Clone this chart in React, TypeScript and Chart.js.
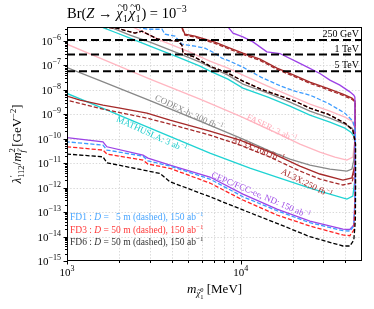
import React, { useEffect, useRef } from 'react';
import { Chart, registerables } from 'chart.js';

Chart.register(...registerables);

// ---------- axis ranges & ticks ----------
const X_MIN = 1000;
const X_MAX = 50000;
const Y_MIN = 1e-15;
const Y_MAX = 3.7e-6;
const X_MAJOR = [1000, 10000];
const X_MAJOR_EXP = ['3', '4'];
const X_MINOR = [2000, 3000, 4000, 5000, 6000, 7000, 8000, 9000, 20000, 30000, 40000];
const Y_MAJOR_EXP = [-15, -14, -13, -12, -11, -10, -9, -8, -7, -6];

// ---------- curves: [mass MeV, lambda'/m^2 GeV^-2] ----------
const CEPC_UPPER = [[8450, 3.73e-6], [9040, 2.07e-6], [10310, 1.46e-6], [11780, 9.1e-7], [14160, 3.56e-7], [16820, 3.05e-7], [21090, 1.39e-7], [24080, 8.67e-8], [28610, 4.66e-8], [32670, 2.48e-8], [37300, 1.55e-8], [42560, 8.26e-9], [44860, 6.05e-9], [45500, 5e-9]];
const CEPC_LOWER = [[1000, 1.11e-10], [1611, 7.48e-11], [1698, 4.68e-11], [2739, 2.14e-11], [2926, 1.61e-11], [3917, 8.38e-12], [6655, 2.71e-12], [10310, 5.47e-13], [16190, 1.33e-13], [25060, 4.31e-14], [38810, 2.03e-14], [42560, 1.94e-14], [44860, 2.96e-14], [45480, 3.11e-13], [45500, 1e-12]];

const FD1_UPPER = [[2529, 3.63e-6], [2926, 3.0e-6], [3526, 3.0e-6], [3666, 1.88e-6], [4186, 1.56e-6], [4594, 7.33e-7], [5454, 6.07e-7], [6230, 5.03e-7], [7113, 3.15e-7], [7801, 1.96e-7], [8676, 1.48e-7], [10310, 8.43e-8], [13090, 3.29e-8], [17060, 1.41e-8], [20540, 8.81e-9], [25060, 6.05e-9], [31820, 2.85e-9], [39850, 1.11e-9], [44280, 5.25e-10], [45800, 2e-10]];
const FD1_LOWER = [[1000, 7.48e-11], [1611, 5.48e-11], [1698, 3.43e-11], [2739, 1.95e-11], [2926, 1.25e-11], [3917, 7.62e-12], [6655, 2.24e-12], [10310, 4.24e-13], [16190, 1.14e-13], [25060, 3.67e-14], [38810, 1.73e-14], [42560, 1.68e-14], [44860, 2.69e-14], [45480, 1.94e-13], [45800, 1e-12]];

const FD3_UPPER = [[1611, 3.63e-6], [1940, 3.3e-6], [2462, 2.07e-6], [2704, 2.49e-6], [3343, 1.17e-6], [4357, 9.72e-7], [4594, 6.67e-7], [4656, 3.15e-7], [5454, 2.16e-7], [6655, 9.25e-8], [8450, 4.8e-8], [10310, 2.26e-8], [13090, 1.06e-8], [16400, 6.05e-9], [20540, 3.44e-9], [25060, 1.78e-9], [31820, 1.01e-9], [39850, 4.35e-10], [44280, 2.25e-10], [45800, 6e-11]];
const FD3_LOWER = [[1000, 4.68e-11], [1611, 3.43e-11], [1698, 2.36e-11], [2739, 1.34e-11], [2926, 9.2e-12], [3917, 6.14e-12], [6655, 1.54e-12], [10310, 3.11e-13], [16190, 7.59e-14], [25060, 2.69e-14], [38810, 1.16e-14], [42560, 1.08e-14], [44860, 1.85e-14], [45480, 1.22e-13], [45800, 1e-12]];

const FD6_UPPER = [[1611, 3.63e-6], [1940, 3.3e-6], [2462, 2.07e-6], [2704, 2.49e-6], [3343, 1.17e-6], [4357, 9.72e-7], [4594, 6.67e-7], [4656, 3.15e-7], [5454, 2.16e-7], [6655, 9.25e-8], [8450, 4.8e-8], [10310, 2.26e-8], [13090, 1.06e-8], [16400, 6.05e-9], [20540, 3.44e-9], [25060, 1.78e-9], [31820, 1.01e-9], [39850, 4.35e-10], [44280, 2.25e-10], [45900, 6e-11]];
const FD6_LOWER = [[1000, 2.36e-11], [1611, 1.82e-11], [1698, 1.04e-11], [2739, 5.24e-12], [3428, 3.83e-12], [3917, 1.74e-12], [6655, 4.24e-13], [10310, 1.22e-13], [16190, 3.48e-14], [25060, 9.84e-15], [38810, 4.11e-15], [42560, 4.11e-15], [44860, 7.23e-15], [45800, 4.74e-14], [45900, 1e-12]];

const AL3X100_UPPER = [[4594, 3.63e-6], [4776, 1.88e-6], [5454, 1.56e-6], [6230, 1.17e-6], [7113, 8.85e-7], [8676, 5.03e-7], [10310, 3.15e-7], [12920, 1.79e-7], [16190, 7.67e-8], [20280, 3.97e-8], [25060, 2.06e-8], [31390, 1.17e-8], [38810, 6.65e-9], [43740, 4.56e-9], [45600, 3.5e-9]];
const AL3X100_LOWER = [[1000, 5.51e-9], [1188, 3.78e-9], [1611, 2.36e-9], [2019, 1.78e-9], [2887, 1.11e-9], [3917, 5.75e-10], [6655, 2.05e-10], [9909, 8.79e-11], [14750, 2.84e-11], [21950, 7.62e-12], [28610, 3.6e-12], [38810, 2.04e-12], [43740, 2.47e-12], [45480, 8.38e-12], [45600, 2e-11]];
const AL3X250_UPPER = [[4594, 3.3e-6], [4776, 1.72e-6], [5454, 1.42e-6], [6230, 1.05e-6], [7113, 7.9e-7], [8676, 4.5e-7], [10310, 2.8e-7], [12920, 1.6e-7], [16190, 6.9e-8], [20280, 3.55e-8], [25060, 1.85e-8], [31390, 1.05e-8], [38810, 5.9e-9], [43740, 4.1e-9], [45700, 3.2e-9]];
const AL3X250_LOWER = [[1000, 3.78e-9], [1611, 1.62e-9], [2887, 6.95e-10], [3917, 3.95e-10], [6655, 1.41e-10], [9909, 5.48e-11], [14750, 1.77e-11], [21950, 4.76e-12], [28610, 2.24e-12], [38810, 1.28e-12], [43740, 1.54e-12], [45480, 5.24e-12], [45700, 1.5e-11]];

const MATHUSLA_UPPER = [[1611, 3.52e-6], [1889, 2.26e-6], [2305, 1.29e-6], [3007, 6.07e-7], [4357, 2.16e-7], [5832, 9.25e-8], [6655, 5.78e-8], [8450, 2.73e-8], [10310, 1.17e-8], [14360, 5.01e-9], [19230, 2.15e-9], [25060, 9.2e-10], [32670, 4.78e-10], [39850, 2.72e-10], [43150, 1.86e-10], [44860, 1.28e-10], [45600, 6e-11]];
const MATHUSLA_LOWER = [[1000, 7.1e-9], [1549, 1.96e-9], [3007, 2.72e-10], [6655, 2.59e-11], [11310, 6.31e-12], [16820, 2.47e-12], [25060, 9.62e-13], [32670, 5.47e-13], [40930, 3.42e-13], [44280, 4.54e-13], [45480, 2.04e-12], [45600, 5e-12]];

const CODEX_UPPER = [[1722, 3.98e-6], [2305, 1.71e-6], [3007, 8.85e-7], [4357, 3.15e-7], [5832, 1.35e-7], [8450, 3.97e-8], [10310, 1.7e-8], [14360, 7.31e-9], [19230, 3.13e-9], [25060, 1.34e-9], [32670, 6.95e-10], [39850, 3.95e-10], [43740, 2.72e-10], [45480, 1.55e-10], [45600, 1e-10]];
const CODEX_LOWER = [[1000, 8.04e-8], [1549, 2.37e-8], [3007, 3.61e-9], [5832, 5.25e-10], [10310, 9.66e-11], [14750, 3.12e-11], [19230, 1.47e-11], [25060, 8.38e-12], [32670, 5.74e-12], [40930, 4.76e-12], [43740, 5.74e-12], [44860, 1.34e-11], [45480, 8.79e-11], [45600, 1e-10]];

const FASER_UPPER = [[2399, 3.63e-6], [3428, 1.07e-6], [5105, 3.45e-7], [6655, 1.48e-7], [8450, 7.67e-8], [10310, 3.97e-8], [14750, 1.29e-8], [25060, 2.6e-9], [32670, 1.34e-9], [39850, 7.64e-10], [43740, 5.25e-10], [45480, 2.72e-10], [45600, 1.5e-10]];
const FASER_LOWER = [[1000, 7.33e-7], [1549, 1.96e-7], [3007, 2.73e-8], [5832, 4.15e-9], [9909, 8.39e-10], [16190, 1.7e-10], [21950, 6.03e-11], [28610, 2.84e-11], [34910, 1.77e-11], [40930, 1.34e-11], [44280, 1.77e-11], [45480, 8.79e-11], [45600, 1.5e-10]];

// squark-mass reference lines
const BOUND_VALUES = [1.08e-6, 2.75e-7, 5.7e-8];
const BOUND_LABELS = ['250 GeV', '1 TeV', '5 TeV'];

// curve annotations (anchor in data coordinates)
const LABEL_TEXTS = ['CODEX-b: 300 fb', 'FASER: 3 ab', 'MATHUSLA: 3 ab', 'AL3X:100 fb', 'AL3X:250 fb', 'CEPC/FCC-ee, ND: 150 ab'];
const LABEL_M = [5035, 15090, 3073, 12580, 23990, 13090];
const LABEL_V = [1.17e-9, 2.72e-10, 1.55e-10, 3.77e-11, 1.54e-12, 4.98e-13];

const LEGEND_NAMES = ['FD1', 'FD3', 'FD6'];
const LEGEND_D = ['  5 m', '50 m', '50 m'];

// ---------- styles ----------
const PURPLE = '#9d42e6';
const BLUE = '#3d9cff';
const RED = '#ff2424';
const BROWN = '#a52a2a';
const CYAN = '#1fd3d3';
const GRAY = '#888888';
const PINK = '#ffb6c1';
const SERIF = '"Liberation Serif", "DejaVu Serif", serif';

type Seg = { t: string; s: number; it?: boolean; dy?: number; dx?: number; adv?: boolean };

function fontOf(g: Seg) {
  return `${g.it ? 'italic ' : ''}${g.s}px ${SERIF}`;
}
function segWidth(ctx: CanvasRenderingContext2D, segs: Seg[]) {
  let w = 0;
  for (const g of segs) {
    ctx.font = fontOf(g);
    if (g.adv !== false) w += ctx.measureText(g.t).width + (g.dx || 0);
  }
  return w;
}
function segDraw(ctx: CanvasRenderingContext2D, segs: Seg[], x: number, y: number) {
  let cx = x;
  ctx.textAlign = 'left';
  ctx.textBaseline = 'alphabetic';
  for (const g of segs) {
    ctx.font = fontOf(g);
    ctx.fillText(g.t, cx + (g.dx || 0), y + (g.dy || 0));
    if (g.adv !== false) cx += ctx.measureText(g.t).width + (g.dx || 0);
  }
}

export default function App() {
  const ref = useRef<HTMLCanvasElement>(null);

  useEffect(() => {
    document.body.style.margin = '0';
    const canvas = ref.current;
    if (!canvas) return;

    const contour = (up: number[][], low: number[][]) =>
      [...up, ...low.slice().reverse()].map(([x, y]) => ({ x, y }));
    const ds = (label: string, pts: any[], color: string, width: number, dash: number[] = []) => ({
      label,
      data: pts,
      showLine: true,
      borderColor: color,
      backgroundColor: color,
      borderWidth: width,
      borderDash: dash,
      pointRadius: 0,
      fill: false,
      tension: 0,
    });

    const FDASH = [4.2, 2];
    const datasets = [
      ...BOUND_VALUES.map((v, i) =>
        ds(BOUND_LABELS[i], [{ x: X_MIN, y: v }, { x: X_MAX, y: v }], '#000000', 2, [8, 4])
      ),
      ds('FD6', contour(FD6_UPPER, FD6_LOWER), '#000000', 1.3, FDASH),
      ds('FD3', contour(FD3_UPPER, FD3_LOWER), RED, 1.3, FDASH),
      ds('FD1', contour(FD1_UPPER, FD1_LOWER), BLUE, 1.3, FDASH),
      ds('CEPC', contour(CEPC_UPPER, CEPC_LOWER), PURPLE, 1.3),
      ds('AL3X250', contour(AL3X250_UPPER, AL3X250_LOWER), BROWN, 1.3, FDASH),
      ds('AL3X100', contour(AL3X100_UPPER, AL3X100_LOWER), BROWN, 1.4),
      ds('MATHUSLA', contour(MATHUSLA_UPPER, MATHUSLA_LOWER), CYAN, 1.3),
      ds('CODEX', contour(CODEX_UPPER, CODEX_LOWER), GRAY, 1.3),
      ds('FASER', contour(FASER_UPPER, FASER_LOWER), PINK, 1.3),
    ];

    const labelColors = [GRAY, '#ffaab8', '#1ccccc', BROWN, BROWN, '#a150e6'];
    const labelAngles = [25, 25.5, 24.5, 21.5, 26.6, 23];
    const legendColors = ['#4aa6ff', '#ff3a3a', '#333333'];

    const decor = {
      id: 'decor',
      beforeDatasetsDraw(chart: any) {
        const { ctx, chartArea: a, scales } = chart;
        const x = scales.x;
        const y = scales.y;
        ctx.save();
        ctx.strokeStyle = '#cfcfcf';
        ctx.lineWidth = 0.8;
        ctx.setLineDash([1.4, 1.8]);
        ctx.beginPath();
        for (const m of [...X_MINOR, ...X_MAJOR]) {
          const px = Math.round(x.getPixelForValue(m)) + 0.5;
          if (px <= a.left + 1 || px >= a.right - 1) continue;
          ctx.moveTo(px, a.top);
          ctx.lineTo(px, a.bottom);
        }
        for (const e of Y_MAJOR_EXP) {
          const py = Math.round(y.getPixelForValue(Math.pow(10, e))) + 0.5;
          if (py <= a.top + 1 || py >= a.bottom - 1) continue;
          ctx.moveTo(a.left, py);
          ctx.lineTo(a.right, py);
        }
        ctx.stroke();
        ctx.restore();
      },
      afterDatasetsDraw(chart: any) {
        const { ctx, chartArea: a, scales } = chart;
        const x = scales.x;
        const y = scales.y;
        ctx.save();
        ctx.setLineDash([]);
        ctx.fillStyle = '#000';
        ctx.strokeStyle = '#000';

        // frame
        ctx.lineWidth = 1;
        ctx.strokeRect(a.left + 0.5, a.top + 0.5, a.right - a.left - 1, a.bottom - a.top - 1);

        // ticks
        ctx.beginPath();
        for (const m of X_MAJOR) {
          const px = Math.round(x.getPixelForValue(m)) + 0.5;
          ctx.moveTo(px, a.bottom);
          ctx.lineTo(px, a.bottom + 3.5);
        }
        for (const m of X_MINOR) {
          const px = Math.round(x.getPixelForValue(m)) + 0.5;
          ctx.moveTo(px, a.bottom);
          ctx.lineTo(px, a.bottom + 2);
        }
        for (const e of Y_MAJOR_EXP) {
          const py = Math.round(y.getPixelForValue(Math.pow(10, e))) + 0.5;
          ctx.moveTo(a.left, py);
          ctx.lineTo(a.left - 3.5, py);
          for (let k = 2; k <= 9; k++) {
            const v = k * Math.pow(10, e);
            if (v > Y_MAX) break;
            const pm = Math.round(y.getPixelForValue(v)) + 0.5;
            ctx.moveTo(a.left, pm);
            ctx.lineTo(a.left - 2, pm);
          }
        }
        ctx.stroke();

        // tick labels
        X_MAJOR.forEach((m, i) => {
          const segs: Seg[] = [{ t: '10', s: 11 }, { t: X_MAJOR_EXP[i], s: 8, dy: -5 }];
          const w = segWidth(ctx, segs);
          segDraw(ctx, segs, x.getPixelForValue(m) - w / 2, a.bottom + 15);
        });
        for (const e of Y_MAJOR_EXP) {
          const segs: Seg[] = [{ t: '10', s: 11 }, { t: '\u2212' + String(-e), s: 8, dy: -5 }];
          const w = segWidth(ctx, segs);
          segDraw(ctx, segs, a.left - 6 - w, y.getPixelForValue(Math.pow(10, e)) + 4);
        }

        // title
        const chi: Seg[] = [
          { t: '~', s: 12, dy: -8.5, dx: 1.5, adv: false },
          { t: '\u03c7', s: 14.5, it: true },
          { t: '0', s: 9.5, dy: -7, dx: 0.5, adv: false },
          { t: '1', s: 9.5, dy: 3.5, dx: 0.5 },
          { t: ' ', s: 4 },
        ];
        const title: Seg[] = [
          { t: 'Br(', s: 14.5 },
          { t: 'Z', s: 14.5, it: true },
          { t: ' \u2192 ', s: 14.5 },
          ...chi,
          ...chi,
          { t: ') = 10', s: 14.5 },
          { t: '\u22123', s: 10, dy: -6.5 },
        ];
        segDraw(ctx, title, a.left, 18);

        // x label
        const xl: Seg[] = [
          { t: 'm', s: 13, it: true },
          { t: '~', s: 7.5, dy: 0, dx: 1.2, adv: false },
          { t: '\u03c7', s: 9, it: true, dy: 3 },
          { t: '0', s: 6.5, dy: -1, adv: false },
          { t: '1', s: 6.5, dy: 6 },
          { t: ' [MeV]', s: 13 },
        ];
        const xw = segWidth(ctx, xl);
        segDraw(ctx, xl, (a.left + a.right) / 2 - xw / 2, 293);

        // y label
        const yl: Seg[] = [
          { t: '\u03bb', s: 13, it: true },
          { t: '\u2032', s: 9, dy: -5, dx: 0.5, adv: false },
          { t: '112', s: 8.5, dy: 3 },
          { t: '/', s: 13 },
          { t: 'm', s: 13, it: true },
          { t: '2', s: 8.5, dy: -6, adv: false },
          { t: '~', s: 7, dy: -1, dx: 0.8, adv: false },
          { t: 'f', s: 8.5, it: true, dy: 4 },
          { t: ' [GeV', s: 13 },
          { t: '\u22122', s: 8.5, dy: -5 },
          { t: ']', s: 13 },
        ];
        const yw = segWidth(ctx, yl);
        ctx.save();
        ctx.translate(17, (a.top + a.bottom) / 2);
        ctx.rotate(-Math.PI / 2);
        segDraw(ctx, yl, -yw / 2, 4);
        ctx.restore();

        // bound labels
        ctx.font = `10px ${SERIF}`;
        ctx.textAlign = 'right';
        BOUND_VALUES.forEach((v, i) => {
          ctx.fillText(BOUND_LABELS[i], a.right - 3, y.getPixelForValue(v) - 3);
        });

        // curve labels
        LABEL_TEXTS.forEach((t, i) => {
          const segs: Seg[] = [{ t, s: 9 }, { t: '\u22121', s: 6.5, dy: -4 }];
          const w = segWidth(ctx, segs);
          ctx.save();
          ctx.fillStyle = labelColors[i];
          ctx.translate(x.getPixelForValue(LABEL_M[i]), y.getPixelForValue(LABEL_V[i]));
          ctx.rotate((labelAngles[i] * Math.PI) / 180);
          segDraw(ctx, segs, -w / 2, 3);
          ctx.restore();
        });

        // legend text
        LEGEND_NAMES.forEach((n, i) => {
          const segs: Seg[] = [
            { t: n + ' : ', s: 9.5 },
            { t: 'D', s: 9.5, it: true },
            { t: ' = ' + LEGEND_D[i] + ' (dashed), 150 ab', s: 9.5 },
            { t: '\u22121', s: 7, dy: -4 },
          ];
          ctx.fillStyle = legendColors[i];
          segDraw(ctx, segs, a.left + 3, 220 + i * 12.5);
        });

        ctx.restore();
      },
    };

    const chart = new Chart(canvas, {
      type: 'scatter',
      data: { datasets: datasets as any },
      options: {
        animation: false,
        responsive: false,
        devicePixelRatio: 1,
        layout: { padding: { top: 27, right: 12, left: 0, bottom: 0 } },
        plugins: { legend: { display: false }, tooltip: { enabled: false }, title: { display: false } },
        scales: {
          x: {
            type: 'logarithmic',
            min: X_MIN,
            max: X_MAX,
            ticks: { display: false },
            grid: { display: false },
            border: { display: false },
            afterFit: (s: any) => {
              s.height = 48;
            },
          },
          y: {
            type: 'logarithmic',
            min: Y_MIN,
            max: Y_MAX,
            ticks: { display: false },
            grid: { display: false },
            border: { display: false },
            afterFit: (s: any) => {
              s.width = 67;
            },
          },
        },
      } as any,
      plugins: [decor],
    });
    return () => chart.destroy();
  }, []);

  return <canvas ref={ref} width={374} height={309} style={{ display: 'block', width: 374, height: 309 }} />;
}
